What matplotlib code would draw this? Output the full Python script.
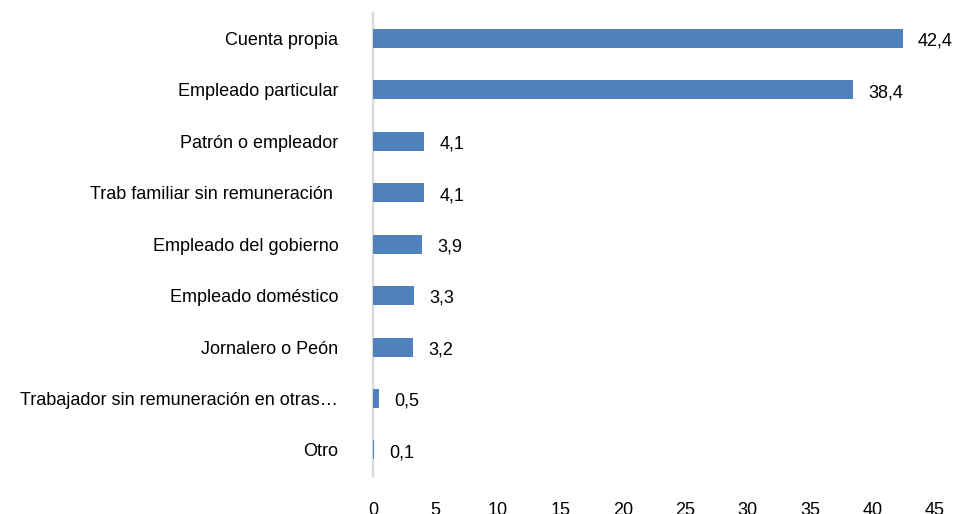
import matplotlib.pyplot as plt
from matplotlib import font_manager

categorias = ['Cuenta propia', 'Empleado particular', 'Patrón o empleador',
              'Trab familiar sin remuneración ', 'Empleado del gobierno',
              'Empleado doméstico', 'Jornalero o Peón',
              'Trabajador sin remuneración en otras…', 'Otro']
valores = [42.4, 38.4, 4.1, 4.1, 3.9, 3.3, 3.2, 0.5, 0.1]
ticks_x = [0, 5, 10, 15, 20, 25, 30, 35, 40, 45]

nombres = {f.name for f in font_manager.fontManager.ttflist}
familia = 'Liberation Sans Narrow' if 'Liberation Sans Narrow' in nombres else 'Liberation Sans'
plt.rcParams['font.family'] = [familia, 'DejaVu Sans']
plt.rcParams['font.size'] = 13

fig = plt.figure(figsize=(9.56, 5.14), dpi=100)
ax = fig.add_axes([373 / 956, 1 - 475.7 / 514, (935 - 373) / 956, (475.7 - 12.8) / 514])

pos = list(range(len(categorias)))
ax.barh(pos, valores, height=0.37, color='#4F81BD', zorder=3)
for p, v in zip(pos, valores):
    ax.annotate(f'{v:.1f}'.replace('.', ','), (v, p), xytext=(11, -2),
                textcoords='offset points', va='center', ha='left', color='#000000')

ax.set_ylim(len(categorias) - 0.5, -0.5)
ax.set_xlim(0, 45)
ax.set_yticks(pos)
ax.set_yticklabels(categorias)
ax.set_xticks(ticks_x)
ax.tick_params(axis='y', length=0, pad=25)
ax.tick_params(axis='x', length=0, pad=19)
for s in ['top', 'right', 'bottom']:
    ax.spines[s].set_visible(False)
ax.spines['left'].set_color('#D9D9D9')
ax.spines['left'].set_linewidth(1.7)
ax.spines['left'].set_zorder(1)

fig.savefig('out.png', dpi=100)
